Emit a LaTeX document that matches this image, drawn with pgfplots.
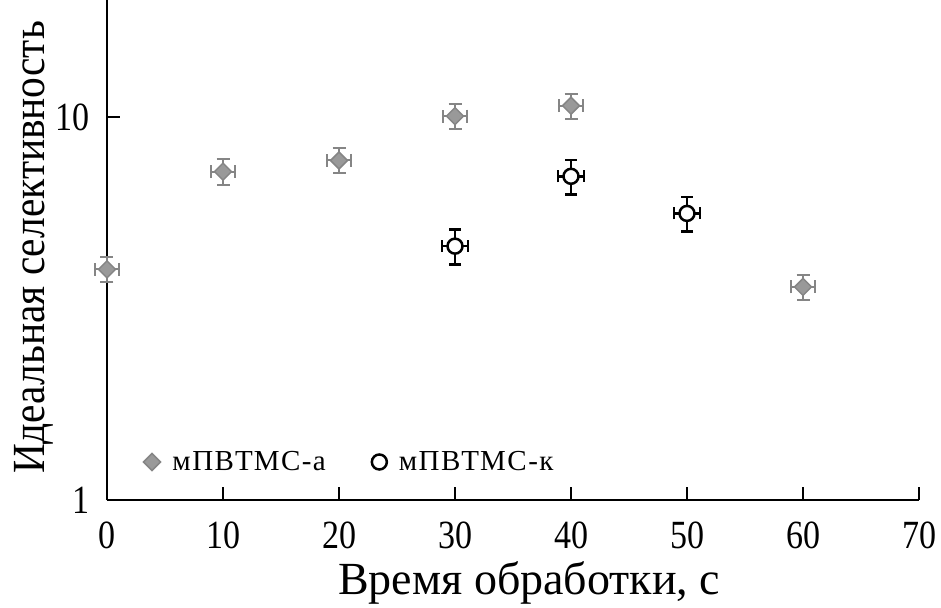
\documentclass[border=0pt]{standalone}
\usepackage{pgfplots}
\pgfplotsset{compat=1.18}
\usepackage{fontspec}
\setmainfont{Liberation Serif}
\newfontfamily\tickfont{Liberation Serif}[FakeStretch=0.85]
\newfontfamily\ylabfont{Liberation Serif}[FakeStretch=0.9]
\newfontfamily\legfont{Liberation Serif}[LetterSpace=5]
\definecolor{gfill}{HTML}{999999}
\definecolor{gline}{HTML}{858585}
\pgfplotstableread{
x y ex ey
0 4.0 1.03 0.30
10 7.2 1.03 0.55
20 7.7 1.03 0.58
30 10.05 1.03 0.75
40 10.7 1.03 0.80
60 3.6 1.03 0.27
}\seriesa
\pgfplotstableread{
x y ex ey
30 4.6 1.1 0.48
40 7.0 1.1 0.72
50 5.6 1.1 0.58
}\seriesk
\begin{document}
\begin{tikzpicture}
\begin{axis}[
  name=ax,
  scale only axis, width=812pt, height=500pt,
  ymode=log, log basis y=10,
  xmin=0, xmax=70, ymin=1, ymax=20.2,
  axis x line*=bottom, axis y line*=left,
  axis line style={line width=2.5pt, -},
  xtick={0,10,...,70}, ytick={1,10}, yticklabels={1,10},
  yminorticks=false,
  tick align=inside, major tick length=13pt,
  tick style={line width=2pt, black},
  /pgf/number format/assume math mode=true,
  ticklabel style={font=\tickfont\fontsize{40}{40}\selectfont, inner sep=0pt},
  xticklabel style={anchor=north, yshift=-22pt},
  yticklabel style={anchor=east, xshift=-17pt},
  xlabel={Время обработки, с},
  ylabel={Идеальная селективность},
  xlabel style={font=\fontsize{46}{46}\selectfont, at={(axis description cs:0.52,-0.188)}, anchor=base, inner sep=0pt},
  ylabel style={font=\ylabfont\fontsize{46}{46}\selectfont, at={(axis description cs:-0.0764,0.505)}, anchor=base, inner sep=0pt},
  legend columns=2,
  legend style={at={(axis description cs:0.041,0.076)}, anchor=west, draw=none, fill=none,
    font=\legfont\fontsize{29}{29}\selectfont,
    /tikz/every odd column/.append style={column sep=10pt},
    /tikz/every even column/.append style={column sep=44pt}},
  legend cell align=left,
  clip=false,
]
\addplot[only marks, mark=square*, mark size=6pt,
  mark options={rotate=45, fill=gfill, draw=gline, line width=1.5pt},
  error bars/.cd, x dir=both, x explicit, y dir=both, y explicit,
  error bar style={line width=2pt, gline},
  error mark options={rotate=90, line width=2pt, mark size=6.5pt, gline}]
  table[x=x, y=y, x error=ex, y error=ey] {\seriesa};
\addlegendentry{мПВТМС-а}
\addplot[only marks, mark=*, mark size=7.5pt,
  mark options={fill=white, draw=black, line width=2.5pt},
  error bars/.cd, x dir=both, x explicit, y dir=both, y explicit,
  error bar style={line width=2.5pt, black},
  error mark options={rotate=90, line width=2.5pt, mark size=6pt, black}]
  table[x=x, y=y, x error=ex, y error=ey] {\seriesk};
\addlegendentry{мПВТМС-к}
\end{axis}
\pgfresetboundingbox
\path[use as bounding box] ([xshift=-107pt,yshift=-107pt]ax.south west) rectangle ([xshift=22pt]ax.north east);
\end{tikzpicture}
\end{document}
